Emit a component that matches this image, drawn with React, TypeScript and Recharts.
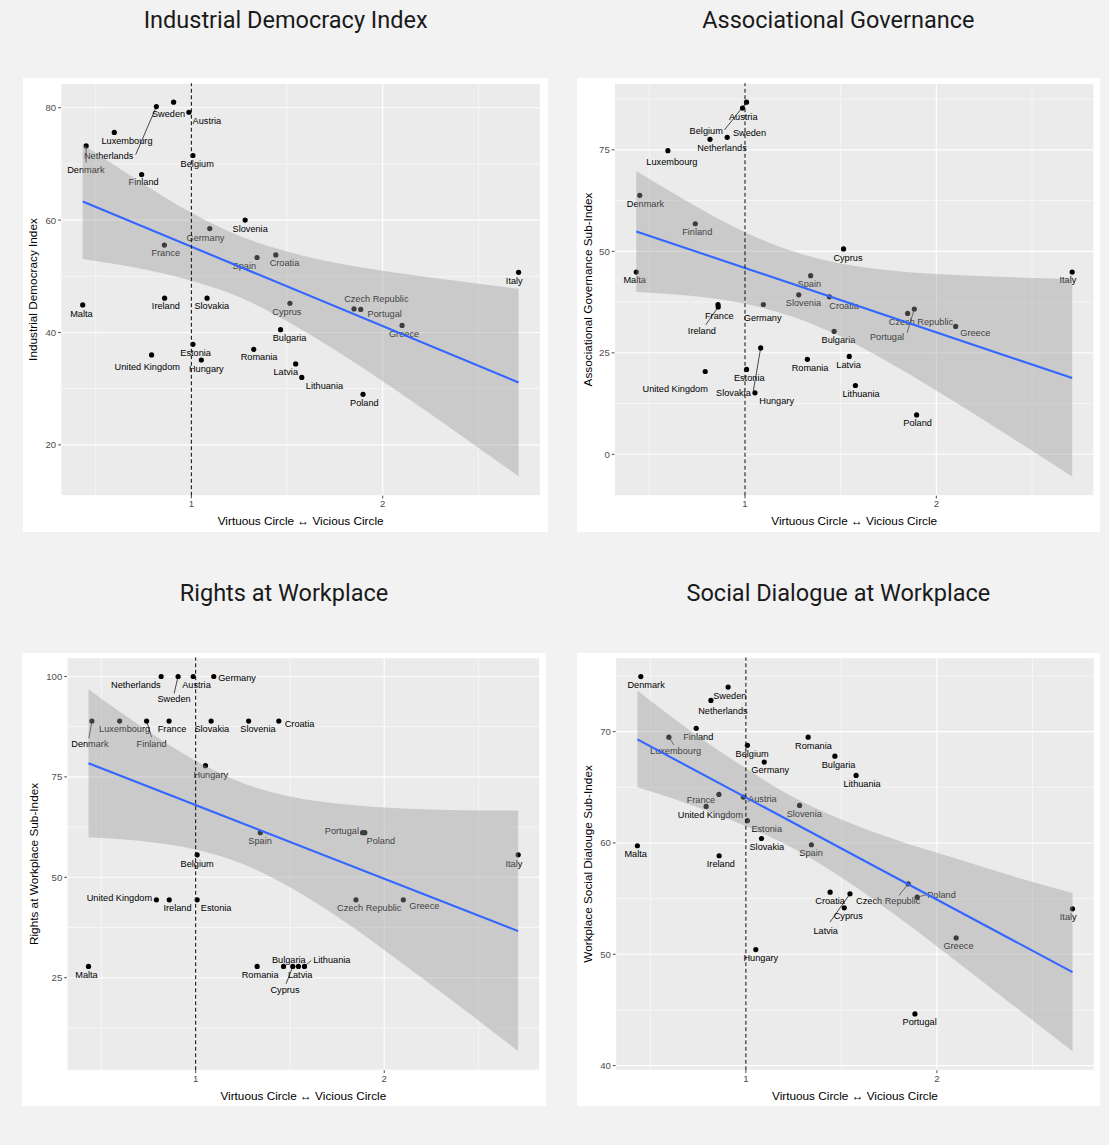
import React from 'react';
import { ComposedChart, Scatter, Area, Line, XAxis, YAxis, CartesianGrid, ReferenceLine } from 'recharts';

// ---------- data ----------
const countries = [
  'Austria', 'Belgium', 'Bulgaria', 'Croatia', 'Cyprus', 'Czech Republic', 'Denmark', 'Estonia',
  'Finland', 'France', 'Germany', 'Greece', 'Hungary', 'Ireland', 'Italy', 'Latvia', 'Lithuania',
  'Luxembourg', 'Malta', 'Netherlands', 'Poland', 'Portugal', 'Romania', 'Slovakia', 'Slovenia',
  'Spain', 'Sweden', 'United Kingdom',
];

// Virtuous Circle <-> Vicious Circle score (x)
const circleScore = [
  0.987, 1.008, 1.466, 1.441, 1.515, 1.85, 0.45, 1.008,
  0.74, 0.859, 1.096, 2.101, 1.052, 0.86, 2.71, 1.545, 1.577,
  0.597, 0.432, 0.817, 1.897, 1.885, 1.326, 1.082, 1.281,
  1.343, 0.907, 0.792,
];

const industrialDemocracy = [
  79.2, 71.5, 40.5, 53.8, 45.2, 44.2, 73.2, 37.9,
  68.1, 55.55, 58.5, 41.25, 35.1, 46.1, 50.7, 34.4, 32.0,
  75.6, 44.9, 80.2, 29.0, 44.1, 37.0, 46.1, 60.0,
  53.35, 81.0, 36.0,
];

const associationalGovernance = [
  85.3, 86.75, 30.3, 38.8, 50.6, 34.7, 63.8, 20.9,
  56.8, 36.9, 36.9, 31.5, 15.15, 36.3, 44.9, 24.1, 16.95,
  74.8, 44.9, 77.6, 9.7, 35.8, 23.4, 26.2, 39.3,
  44.0, 78.1, 20.4,
];

const rightsAtWorkplace = [
  100, 55.6, 27.8, 88.9, 27.8, 44.4, 88.9, 44.4,
  88.9, 88.9, 100, 44.4, 77.8, 44.4, 55.6, 27.8, 27.8,
  88.9, 27.8, 100, 61.1, 61.1, 27.8, 88.9, 88.9,
  61.1, 100, 44.4,
];

const socialDialogue = [
  64.12, 68.77, 67.8, 55.58, 54.17, 56.33, 74.95, 62.0,
  70.3, 64.36, 67.27, 51.47, 50.42, 58.85, 54.08, 55.43, 66.07,
  69.5, 59.75, 72.8, 55.13, 44.64, 69.5, 60.4, 63.37,
  59.84, 74.0, 63.28,
];

// confidence ribbons
const bandX = [0.432, 0.7, 1.0, 1.25, 1.5, 1.8, 2.1, 2.4, 2.71];
const idLower = [53.1, 51.6, 49.2, 46.3, 42.0, 35.8, 29.0, 21.9, 14.4];
const idUpper = [73.5, 67.5, 61.3, 57.2, 54.4, 52.1, 50.5, 49.1, 47.8];
const agLower = [40.0, 39.1, 37.1, 33.9, 29.0, 21.3, 12.8, 3.9, -5.5];
const agUpper = [69.8, 62.3, 54.7, 50.0, 47.0, 45.1, 44.2, 43.6, 43.2];
const rwLower = [60.0, 59.1, 56.9, 53.3, 47.5, 38.6, 28.4, 17.9, 6.7];
const rwUpper = [96.8, 87.9, 79.0, 73.5, 70.1, 68.1, 67.1, 66.7, 66.6];
const sdLower = [65.0, 63.5, 61.5, 59.5, 56.9, 53.3, 49.4, 45.4, 41.3];
const sdUpper = [73.7, 70.2, 66.7, 64.1, 62.1, 60.2, 58.6, 57.0, 55.5];

// fitted lines (end points)
const fitX = [0.432, 2.71];
const idFit = [63.3, 31.1];
const agFit = [54.9, 18.8];
const rwFit = [78.4, 36.6];
const sdFit = [69.3, 48.4];

// ticks
const xTicks = [1, 2];
const xMinor = [0.5, 1.5, 2.5];
const idTicks = [20, 40, 60, 80];
const idMinor = [30, 50, 70];
const agTicks = [0, 25, 50, 75];
const agMinor = [12.5, 37.5, 62.5, 87.5];
const rwTicks = [25, 50, 75, 100];
const rwMinor = [12.5, 37.5, 62.5, 87.5];
const sdTicks = [40, 50, 60, 70];
const sdMinor = [45, 55, 65, 75];

const xLabel = 'Virtuous Circle \u2194 Vicious Circle';

// ---------- label layout (pixel offsets of repelled labels: [dx, dy, segDx?, segDy?]) ----------
const idLabels: Record<string, number[]> = {
  Austria: [18, 8.3], Belgium: [4.3, 8], Bulgaria: [9, 8.3], Croatia: [8.7, 8], Cyprus: [-3, 8.7],
  'Czech Republic': [22.3, -10], Denmark: [-0.3, 24, 0, 16.7], Estonia: [2.7, 8.3], Finland: [2, 7.3],
  France: [1.3, 8], Germany: [-4.3, 9], Greece: [2, 8.7], Hungary: [5, 9], Ireland: [1.3, 8],
  Italy: [-4.3, 8.7], Latvia: [-9.9, 8.3], Lithuania: [22.7, 8.7], Luxembourg: [12.7, 8],
  Malta: [-1.3, 8.7], Netherlands: [-47.7, 48.7, -20.7, 48], Poland: [1.3, 8.3], Portugal: [24, 4.3],
  Romania: [5.3, 7.7], Slovakia: [4.7, 8], Slovenia: [5, 8.7], Spain: [-12.7, 8.3], Sweden: [-5, 11.7],
  'United Kingdom': [-4.3, 12.3],
};
const agLabels: Record<string, number[]> = {
  Austria: [0.7, 9], Belgium: [-40.3, 28.7, -22, 27.7], Bulgaria: [4.3, 8.3], Croatia: [14.7, 8.7],
  Cyprus: [4.4, 8.7], 'Czech Republic': [13.3, 8.7], Denmark: [5.7, 8], Estonia: [2.7, 8],
  Finland: [2, 7.7], France: [1.3, 11], Germany: [-0.7, 13], Greece: [19.7, 6], Hungary: [21.7, 7.7],
  Ireland: [-16.3, 23.7, -12.3, 17.7], Italy: [-4.3, 8], Latvia: [-0.7, 8.3], Lithuania: [5.7, 8.3],
  Luxembourg: [4, 11.3], Malta: [-1.7, 7.7], Netherlands: [12, 8.3], Poland: [1, 8.3],
  Portugal: [-27.3, 27.3, -7.3, 24], Romania: [2.7, 8.3], Slovakia: [-27.3, 45, -7.3, 42.7],
  Slovenia: [4.7, 8.3], Spain: [-1.3, 8.3], Sweden: [22.3, -4.7], 'United Kingdom': [-30, 17.3],
};
const rwLabels: Record<string, number[]> = {
  Austria: [3.3, 8.3], Belgium: [0, 8.7], Bulgaria: [5.3, -6.7], Croatia: [20.7, 2.3],
  Cyprus: [-7.8, 23.3, -6.7, 17.3], 'Czech Republic': [13.3, 8], Denmark: [-2, 22.7, -3, 17.3],
  Estonia: [19, 8.3], Finland: [5, 22.7, 5, 16.3], France: [3, 8], Germany: [23.3, 1], Greece: [21, 5.7],
  Hungary: [5.3, 9], Ireland: [8.3, 8.3], Italy: [-4.3, 8.7], Latvia: [1.7, 8],
  Lithuania: [27.3, -6.7, 6.7, -6], Luxembourg: [5, 8], Malta: [-2, 8.3], Netherlands: [-25.3, 8.3],
  Poland: [16, 8.3], Portugal: [-20.7, -2.3], Romania: [3, 8.3], Slovakia: [0.7, 8], Slovenia: [9.3, 8],
  Spain: [-0.3, 8.3], Sweden: [-4, 22.3, -4, 17], 'United Kingdom': [-37, -1.7],
};
const sdLabels: Record<string, number[]> = {
  Austria: [19, 1.7], Belgium: [4.7, 8.7], Bulgaria: [3.7, 8.3], Croatia: [0, 8.3], Cyprus: [4, 8.3],
  'Czech Republic': [-20, 17.3, -9.3, 11.7], Denmark: [5.3, 8.7], Estonia: [19.3, 7.7], Finland: [2, 8],
  France: [-18, 5], Germany: [6, 8], Greece: [2.3, 8], Hungary: [5, 8], Ireland: [1.7, 8],
  Italy: [-4.3, 7.7], Latvia: [-24.3, 36.7, -20, 28.3], Lithuania: [6, 8],
  Luxembourg: [6.7, 14, 5, 7.7], Malta: [-1.7, 8.3], Netherlands: [12, 10.3],
  Poland: [24.3, -2.7, 10, -2.7], Portugal: [4.7, 8], Romania: [5.3, 8.3], Slovakia: [5.3, 8],
  Slovenia: [4.7, 8.3], Spain: [-0.3, 8.3], Sweden: [1.7, 8.3], 'United Kingdom': [4.3, 8.3],
};

const FONT = '"Liberation Sans", Arial, Helvetica, sans-serif';

type PanelCfg = {
  title: string; yLabel: string; values: number[]; lower: number[]; upper: number[]; fit: number[];
  ticks: number[]; minor: number[]; domain: [number, number]; labels: Record<string, number[]>;
  left: number; top: number; w: number; h: number; yW: number; mTop: number; mRight: number; xH: number;
  titleTop: number; yLabelOffset: number;
};

const panels: PanelCfg[] = [
  {
    title: 'Industrial Democracy Index', yLabel: 'Industrial Democracy Index',
    values: industrialDemocracy, lower: idLower, upper: idUpper, fit: idFit,
    ticks: idTicks, minor: idMinor, domain: [10.95, 84.35], labels: idLabels,
    left: 23.3, top: 78, w: 524.7, h: 454, yW: 37.9, mTop: 5.3, mRight: 7.3, xH: 36.3,
    titleTop: 6.3, yLabelOffset: 10,
  },
  {
    title: 'Associational Governance', yLabel: 'Associational Governance Sub-Index',
    values: associationalGovernance, lower: agLower, upper: agUpper, fit: agFit,
    ticks: agTicks, minor: agMinor, domain: [-10.2, 91.4], labels: agLabels,
    left: 576.7, top: 78, w: 523.3, h: 454, yW: 37.5, mTop: 5.3, mRight: 6.3, xH: 36.3,
    titleTop: 6.3, yLabelOffset: 10.8,
  },
  {
    title: 'Rights at Workplace', yLabel: 'Rights at Workplace Sub-Index',
    values: rightsAtWorkplace, lower: rwLower, upper: rwUpper, fit: rwFit,
    ticks: rwTicks, minor: rwMinor, domain: [1.95, 104.7], labels: rwLabels,
    left: 22.3, top: 652.7, w: 523.4, h: 453.3, yW: 45, mTop: 4.6, mRight: 5.7, xH: 36,
    titleTop: 578.5, yLabelOffset: 11.5,
  },
  {
    title: 'Social Dialogue at Workplace', yLabel: 'Workplace Social Dialouge Sub-Index',
    values: socialDialogue, lower: sdLower, upper: sdUpper, fit: sdFit,
    ticks: sdTicks, minor: sdMinor, domain: [39.58, 76.65], labels: sdLabels,
    left: 576.7, top: 652.7, w: 523.3, h: 453.3, yW: 38.6, mTop: 4.6, mRight: 6, xH: 36,
    titleTop: 578.5, yLabelOffset: 11.3,
  },
];

function makeShape(labels: Record<string, number[]>) {
  return (props: any) => {
    const { cx, cy, payload } = props;
    if (cx == null || cy == null || !payload) return <g />;
    const o = labels[payload.name] || [0, 8.3];
    const [dx, dy, sx, sy] = o;
    return (
      <g>
        {sx !== undefined && (
          <line x1={cx} y1={cy} x2={cx + sx} y2={cy + sy} stroke="#000" strokeWidth={0.7} />
        )}
        <circle cx={cx} cy={cy} r={2.6} fill="#000" />
        <text
          x={cx + dx}
          y={cy + dy}
          dy="0.35em"
          textAnchor="middle"
          fontSize={9.2}
          fontFamily={FONT}
          fill="#000"
        >
          {payload.name}
        </text>
      </g>
    );
  };
}

function Panel({ cfg }: { cfg: PanelCfg }) {
  const points = countries.map((name, i) => ({ name, x: circleScore[i], y: cfg.values[i] }));
  const band = bandX.map((x, i) => ({ x, band: [cfg.lower[i], cfg.upper[i]] }));
  const fit = fitX.map((x, i) => ({ x, y: cfg.fit[i] }));
  const tickStyle = { fontSize: 9.6, fill: '#4d4d4d', fontFamily: FONT };
  return (
    <>
      <div
        style={{
          position: 'absolute', left: cfg.left, top: cfg.titleTop, width: cfg.w, textAlign: 'center',
          fontFamily: 'Roboto, "Noto Sans", sans-serif', fontSize: 23.5, lineHeight: '28px', color: '#1a1a1a',
          whiteSpace: 'nowrap',
        }}
      >
        {cfg.title}
      </div>
      <div style={{ position: 'absolute', left: cfg.left, top: cfg.top, width: cfg.w, height: cfg.h, background: '#ffffff' }}>
        <ComposedChart
          width={cfg.w}
          height={cfg.h}
          data={band}
          margin={{ top: cfg.mTop, right: cfg.mRight, bottom: 0, left: 0 }}
        >
          <CartesianGrid
            fill="#ebebeb"
            stroke="#ffffff"
            strokeWidth={0.55}
            horizontalValues={cfg.minor}
            verticalValues={xMinor}
          />
          <CartesianGrid stroke="#ffffff" strokeWidth={1.1} fill="none" />
          <XAxis
            type="number"
            dataKey="x"
            domain={[0.318, 2.824]}
            ticks={xTicks}
            allowDataOverflow
            height={cfg.xH}
            axisLine={false}
            tickLine={{ stroke: '#333333', strokeWidth: 0.9 }}
            tickSize={2.75}
            tickMargin={2}
            tick={tickStyle}
            label={{
              value: xLabel, position: 'insideBottom', offset: 6.7,
              style: { fontSize: 11.8, fill: '#000', fontFamily: FONT },
            }}
          />
          <YAxis
            type="number"
            dataKey="y"
            domain={cfg.domain}
            ticks={cfg.ticks}
            allowDataOverflow
            width={cfg.yW}
            axisLine={false}
            tickLine={{ stroke: '#333333', strokeWidth: 0.9 }}
            tickSize={2.75}
            tickMargin={2}
            tick={tickStyle}
            label={{
              value: cfg.yLabel, angle: -90, position: 'insideLeft', offset: cfg.yLabelOffset,
              style: { textAnchor: 'middle', fontSize: 11.8, fill: '#000', fontFamily: FONT },
            }}
          />
          <Scatter
            data={points}
            dataKey="y"
            isAnimationActive={false}
            shape={makeShape(cfg.labels)}
            zIndex={50}
          />
          <Area
            dataKey="band"
            type="monotone"
            stroke="none"
            fill="#999999"
            fillOpacity={0.4}
            isAnimationActive={false}
            dot={false}
            activeDot={false}
            zIndex={100}
          />
          <Line
            data={fit}
            dataKey="y"
            type="linear"
            stroke="#3366FF"
            strokeWidth={2.1}
            dot={false}
            activeDot={false}
            isAnimationActive={false}
            zIndex={400}
          />
          <ReferenceLine
            x={1}
            stroke="#1a1a1a"
            strokeWidth={1.1}
            strokeDasharray="4 2.5"
            zIndex={450}
          />
        </ComposedChart>
      </div>
    </>
  );
}

export default function App() {
  return (
    <div style={{ position: 'absolute', left: 0, top: 0, width: 1109, height: 1145, background: '#f2f2f2', overflow: 'hidden' }}>
      {panels.map((p) => (
        <Panel key={p.title} cfg={p} />
      ))}
    </div>
  );
}
